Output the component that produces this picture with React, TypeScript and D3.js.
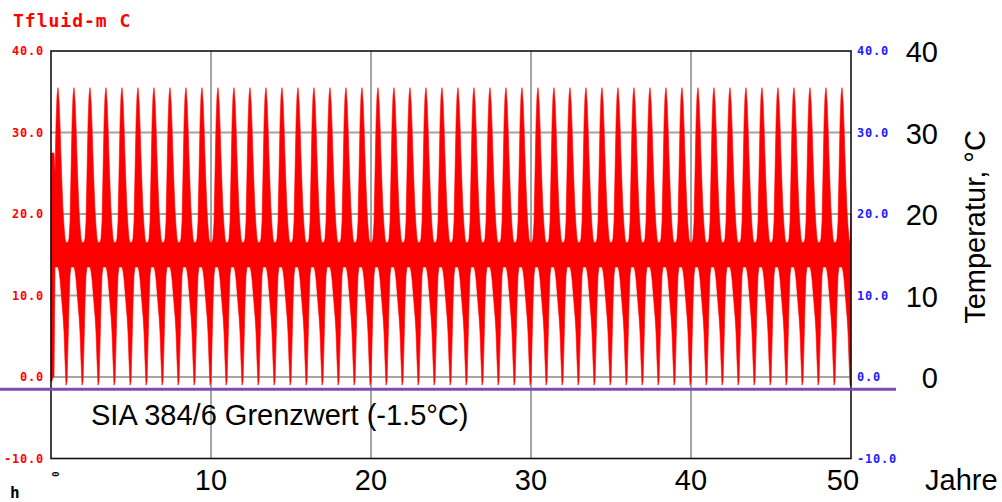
import React from 'react';
import * as d3 from 'd3';

// one year of the fluid temperature envelope, 16 steps per year (°C)
const annualUpper = [16.5, 16.5, 17, 19, 25, 31, 34.5, 35.5, 34, 31, 27, 23.5, 20.5, 18.5, 17, 16.5];
const annualLower = [-0.5, 4, 9, 12.5, 13.5, 13.5, 13.5, 13.5, 13, 12, 10.5, 9, 7.5, 5.5, 2, -1];
// start-up of the simulation (first steps of year 1)
const startUpper = [27.5, 27.5, 27.5, 27.5];
const startLower = [-0.5, -0.5, 0, 0];
const endUpper = 20;
const endLower = -1;
const simYears = 50;

const yearTicks = [0, 10, 20, 30, 40, 50];
const yearLabels = [10, 20, 30, 40, 50];
const tempTicks = [-10, 0, 10, 20, 30, 40];
const tempLabels = [0, 10, 20, 30, 40];
const limitTemp = -1.5;

const W = 1002;
const H = 502;
const big = '"Liberation Sans", Arial, sans-serif';
const mono = '"DejaVu Sans Mono", "Liberation Mono", monospace';

type Pt = { t: number; hi: number; lo: number };

function buildSeries(): Pt[] {
  const n = annualUpper.length;
  const pts: Pt[] = [];
  for (let yr = 0; yr < simYears; yr++) {
    for (let h = 0; h < n; h++) {
      const idx = yr * n + h;
      const hi = idx < startUpper.length ? startUpper[idx] : annualUpper[h];
      const lo = idx < startLower.length ? startLower[idx] : annualLower[h];
      pts.push({ t: yr + h / n, hi, lo });
    }
  }
  pts.push({ t: simYears, hi: endUpper, lo: endLower });
  return pts;
}

export default function App() {
  const x = d3.scaleLinear().domain([0, 50]).range([51, 851]);
  const y = d3.scaleLinear().domain([-10, 40]).range([458.5, 51]);

  const data = buildSeries();
  const area = d3.area<Pt>()
    .x(d => x(d.t))
    .y0(d => y(d.lo))
    .y1(d => y(d.hi));

  return (
    <svg width={W} height={H} style={{ position: 'absolute', left: 0, top: 0, background: '#fff' }}>
      {/* grid */}
      {tempTicks.filter(v => v > -10 && v < 40).map(v => (
        <line key={'h' + v} x1={x(0)} x2={x(50)} y1={y(v)} y2={y(v)} stroke="#a4a4a4" strokeWidth={2} />
      ))}
      {yearTicks.filter(v => v > 0 && v < 50).map(v => (
        <line key={'v' + v} x1={x(v)} x2={x(v)} y1={y(40)} y2={y(-10)} stroke="#a4a4a4" strokeWidth={2} />
      ))}

      <path d={area(data) || ''} fill="#ff0000" stroke="#ff0000" strokeWidth={0.6} />

      {/* frame */}
      <rect x={x(0)} y={y(40)} width={x(50) - x(0)} height={y(-10) - y(40)} fill="none" stroke="#111" strokeWidth={1.6} />

      {/* limit line */}
      <line x1={0} x2={896} y1={y(limitTemp)} y2={y(limitTemp)} stroke="#7d4cb3" strokeWidth={3} />
      <text x={91} y={425} fontFamily={big} fontSize={29} fill="#000">SIA 384/6 Grenzwert (-1.5°C)</text>

      {/* small program labels */}
      <text x={13} y={27} fontFamily={mono} fontWeight="bold" fontSize={18} letterSpacing={1} fill="#ff0000">Tfluid-m C</text>
      {tempTicks.map(v => (
        <text key={'l' + v} x={44} y={y(v)} dy="0.35em" textAnchor="end" fontFamily={mono} fontWeight="bold" fontSize={12} letterSpacing={0.8} fill="#ff0000">
          {v.toFixed(1)}
        </text>
      ))}
      {tempTicks.map(v => (
        <text key={'r' + v} x={857} y={y(v)} dy="0.35em" fontFamily={mono} fontWeight="bold" fontSize={12} letterSpacing={0.8} fill="#2020ff">
          {v.toFixed(1)}
        </text>
      ))}
      <text transform={`translate(${x(0) + 5},474) rotate(-90)`} textAnchor="middle" dy="0.35em" fontFamily={mono} fontWeight="bold" fontSize={9} fill="#000">0</text>
      <text x={10} y={498} fontFamily={mono} fontWeight="bold" fontSize={16} fill="#000">h</text>

      {/* large labels */}
      {tempLabels.map(v => (
        <text key={'b' + v} x={938} y={y(v) + 1} dy="0.36em" textAnchor="end" fontFamily={big} fontSize={29} fill="#000">{v}</text>
      ))}
      {yearLabels.map(v => (
        <text key={'x' + v} x={x(v) - (v === 50 ? 8 : 0)} y={490} textAnchor="middle" fontFamily={big} fontSize={29} fill="#000">{v}</text>
      ))}
      <text x={925} y={490} fontFamily={big} fontSize={29} fill="#000">Jahre</text>
      <text transform="translate(985,227) rotate(-90)" textAnchor="middle" fontFamily={big} fontSize={29} fill="#000">Temperatur, °C</text>
    </svg>
  );
}
